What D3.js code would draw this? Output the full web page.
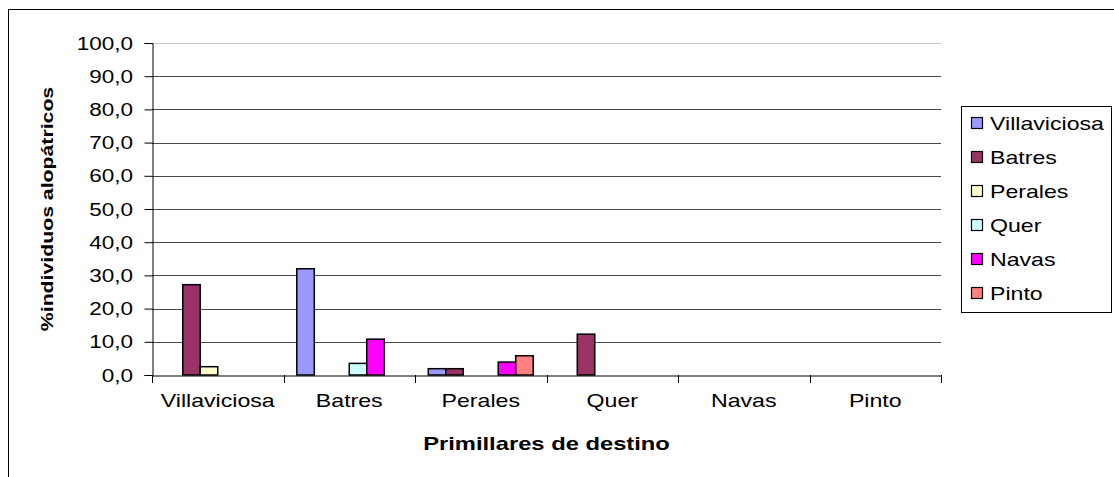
<!DOCTYPE html>
<html>
<head>
<meta charset="utf-8">
<script src="https://cdn.jsdelivr.net/npm/d3@7"></script>
<style>
  body { margin: 0; background: #fff; }
  text { font-family: "Liberation Sans", Arial, sans-serif; }
</style>
</head>
<body>
<div id="chart"></div>
<script>
// destination categories (x axis)
const categories = ['Villaviciosa', 'Batres', 'Perales', 'Quer', 'Navas', 'Pinto'];

// origin series, one value per destination
const seriesNames = ['Villaviciosa', 'Batres', 'Perales', 'Quer', 'Navas', 'Pinto'];
const villaviciosaValues = [0, 32.0, 1.9, 0, 0, 0];
const batresValues = [27.2, 0, 1.9, 12.3, 0, 0];
const peralesValues = [2.5, 0, 0, 0, 0, 0];
const querValues = [0, 3.5, 0, 0, 0, 0];
const navasValues = [0, 10.8, 3.9, 0, 0, 0];
const pintoValues = [0, 0, 5.8, 0, 0, 0];

const yTicks = [0, 10, 20, 30, 40, 50, 60, 70, 80, 90, 100];

const seriesColors = ['#9999FF', '#993366', '#FFFFCC', '#CCFFFF', '#FF00FF', '#FF8080'];
const allValues = [villaviciosaValues, batresValues, peralesValues, querValues, navasValues, pintoValues];

const width = 1114, height = 477;
const plot = { left: 152, right: 941, top: 43, bottom: 375 };
const stretch = 1.25; // original text is drawn horizontally widened

const svg = d3.select('#chart').append('svg')
    .attr('width', width)
    .attr('height', height);

// outer chart border (runs off the right and bottom of the picture)
svg.append('rect')
    .attr('x', 8.5).attr('y', 9.5)
    .attr('width', 1130).attr('height', 480)
    .attr('fill', 'none')
    .attr('stroke', '#000')
    .attr('stroke-width', 1);

const x0 = d3.scaleBand()
    .domain(categories)
    .range([plot.left, plot.right])
    .paddingInner(0).paddingOuter(0);

const x1 = d3.scaleBand()
    .domain(seriesNames)
    .range([0, x0.bandwidth()])
    .paddingInner(0).paddingOuter(0.76);

const y = d3.scaleLinear()
    .domain([0, 100])
    .range([plot.bottom, plot.top]);

const fmt = v => d3.format('.1f')(v).replace('.', ',');

function stretchedText(sel, tx, ty) {
    return sel.attr('transform', `translate(${tx},${ty}) scale(${stretch},1)`);
}

// gridlines
svg.append('g').selectAll('line')
    .data(yTicks.filter(t => t > 0))
    .enter().append('line')
    .attr('x1', plot.left).attr('x2', plot.right)
    .attr('y1', d => Math.round(y(d)) + 0.5)
    .attr('y2', d => Math.round(y(d)) + 0.5)
    .attr('stroke', d => d === 100 ? '#c8c8c8' : '#4a4a4a')
    .attr('stroke-width', 1);

// bars
const groups = svg.append('g').selectAll('g')
    .data(seriesNames.map((name, i) => ({ name, color: seriesColors[i], values: allValues[i] })))
    .enter().append('g');

groups.selectAll('rect')
    .data(s => s.values.map((v, ci) => ({ name: s.name, color: s.color, cat: categories[ci], v })).filter(d => d.v > 0))
    .enter().append('rect')
    .attr('x', d => x0(d.cat) + x1(d.name))
    .attr('y', d => y(d.v))
    .attr('width', x1.bandwidth())
    .attr('height', d => y(0) - y(d.v))
    .attr('fill', d => d.color)
    .attr('stroke', '#000')
    .attr('stroke-width', 1.5);

// y axis
const yAxis = svg.append('g')
    .attr('transform', `translate(${plot.left + 0.5},0)`)
    .call(d3.axisLeft(y).tickValues(yTicks).tickSize(8).tickFormat(''));
yAxis.select('.domain').attr('stroke', '#000');
yAxis.selectAll('.tick line').attr('stroke', '#000');

svg.append('g').selectAll('text')
    .data(yTicks)
    .enter().append('text')
    .call(s => s.each(function (d) { stretchedText(d3.select(this), 133, y(d) + 6.5); }))
    .attr('text-anchor', 'end')
    .style('font-size', '18px')
    .text(d => fmt(d));

// x axis
const xAxis = svg.append('g')
    .attr('transform', `translate(0,${plot.bottom + 0.5})`)
    .call(d3.axisBottom(x0).tickSize(0).tickFormat(''));
xAxis.select('.domain').attr('stroke', '#000');
xAxis.selectAll('.tick line').remove();

svg.append('g').selectAll('line')
    .data(categories.concat(['end']))
    .enter().append('line')
    .attr('x1', (d, i) => Math.round(i < categories.length ? x0(d) : plot.right) + 0.5)
    .attr('x2', (d, i) => Math.round(i < categories.length ? x0(d) : plot.right) + 0.5)
    .attr('y1', plot.bottom).attr('y2', plot.bottom + 8)
    .attr('stroke', '#000');

svg.append('g').selectAll('text')
    .data(categories)
    .enter().append('text')
    .call(s => s.each(function (d) { stretchedText(d3.select(this), x0(d) + x0.bandwidth() / 2, 407); }))
    .attr('text-anchor', 'middle')
    .style('font-size', '18.5px')
    .text(d => d);

// axis titles
stretchedText(svg.append('text'), (plot.left + plot.right) / 2, 450)
    .attr('text-anchor', 'middle')
    .style('font-size', '19px')
    .style('font-weight', 'bold')
    .text('Primillares de destino');

svg.append('text')
    .attr('transform', `translate(53,${(plot.top + plot.bottom) / 2}) rotate(-90) scale(${stretch},1)`)
    .attr('text-anchor', 'middle')
    .style('font-size', '17px')
    .style('font-weight', 'bold')
    .text('%individuos alopátricos');

// legend
const legend = svg.append('g');
legend.append('rect')
    .attr('x', 961.5).attr('y', 106.5)
    .attr('width', 150).attr('height', 206)
    .attr('fill', '#fff')
    .attr('stroke', '#000');

const items = legend.selectAll('g.item')
    .data(seriesNames)
    .enter().append('g')
    .attr('class', 'item')
    .attr('transform', (d, i) => `translate(0,${123 + i * 34})`);

items.append('rect')
    .attr('x', 971.5).attr('y', -5.5)
    .attr('width', 11).attr('height', 11)
    .attr('fill', (d, i) => seriesColors[i])
    .attr('stroke', '#000')
    .attr('stroke-width', 1.2);

items.append('text')
    .attr('transform', `translate(990,6.5) scale(${stretch},1)`)
    .style('font-size', '18.5px')
    .text(d => d);
</script>
</body>
</html>
